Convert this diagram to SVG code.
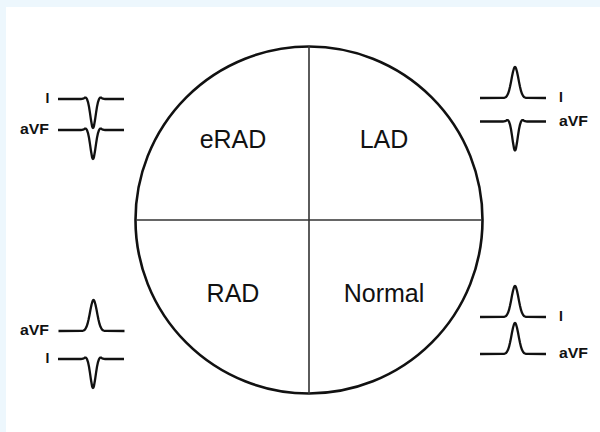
<svg xmlns="http://www.w3.org/2000/svg" xmlns:xlink="http://www.w3.org/1999/xlink" width="600" height="432" viewBox="0 0 600 432">
  <style>
    .quad { font-family: "Liberation Sans", Arial, sans-serif; font-size: 25px; fill: #111; text-anchor: middle; }
    .lead { font-family: "Liberation Sans", Arial, sans-serif; font-size: 14px; font-weight: bold; fill: #111; }
    .wave { fill: none; stroke: #111; stroke-width: 2.3; stroke-linejoin: round; stroke-linecap: butt; }
    .rim { fill: #fff; stroke: #111; stroke-width: 2.6; }
    .div { stroke: #333; stroke-width: 1.6; }
  </style>
  <defs>
    <polyline id="neg" class="wave" points="-35,0 -12,0 -11,-0.06 -10,-0.26 -9,-0.78 -8,-1.43 -7,-1.42 -6,0.03 -5,3.1 -4,7.79 -3,14.06 -2,21.05 -1,26.8 -0.5,28.43 0,29 0.5,28.43 1,26.8 2,21.05 3,14.06 4,7.79 5,3.1 6,0.03 7,-1.42 8,-1.43 9,-0.78 10,-0.26 11,-0.06 12,0 31,0"/>
    <polyline id="pos" class="wave" points="-35,0 -12,-0.1 -11,-0.2 -10,-0.5 -9,-1.1 -8,-2.3 -7,-4.2 -6,-7.1 -5,-11.2 -4,-16.1 -3,-21.5 -2,-26.3 -1,-29.8 -0.5,-30.7 0,-31 0.5,-30.7 1,-29.8 2,-26.3 3,-21.5 4,-16.1 5,-11.2 6,-7.1 7,-4.2 8,-2.3 9,-1.1 10,-0.5 11,-0.2 12,-0.1 31,0"/>
  </defs>
  <rect x="0" y="0" width="600" height="432" fill="#EDF7FD"/>
  <rect x="6" y="7" width="594" height="425" fill="#ffffff"/>

  <g id="axis-circle">
    <circle class="rim" cx="309" cy="220" r="173.5"/>
  </g>
  <g id="connectors">
    <line class="div" x1="309" y1="46" x2="309" y2="394"/>
    <line class="div" x1="136" y1="220" x2="482" y2="220"/>
  </g>

  <g id="q-erad"><text class="quad" x="233" y="148">eRAD</text></g>
  <g id="q-lad"><text class="quad" x="384" y="148">LAD</text></g>
  <g id="q-rad"><text class="quad" x="233" y="302">RAD</text></g>
  <g id="q-normal"><text class="quad" x="384" y="302">Normal</text></g>

  <g id="ecg-erad">
    <text class="lead" x="49.5" y="103" text-anchor="end">I</text>
    <use xlink:href="#neg" href="#neg" transform="translate(93,99)"/>
    <text class="lead" x="20" y="134" textLength="29" lengthAdjust="spacingAndGlyphs">aVF</text>
    <use xlink:href="#neg" href="#neg" transform="translate(93,130)"/>
  </g>
  <g id="ecg-lad">
    <use xlink:href="#pos" href="#pos" transform="translate(515,98)"/>
    <text class="lead" x="559" y="102">I</text>
    <use xlink:href="#neg" href="#neg" transform="translate(515,121.5)"/>
    <text class="lead" x="559" y="126" textLength="29" lengthAdjust="spacingAndGlyphs">aVF</text>
  </g>
  <g id="ecg-rad">
    <text class="lead" x="20" y="335" textLength="29" lengthAdjust="spacingAndGlyphs">aVF</text>
    <use xlink:href="#pos" href="#pos" transform="translate(93.5,331)"/>
    <text class="lead" x="49.5" y="363" text-anchor="end">I</text>
    <use xlink:href="#neg" href="#neg" transform="translate(93,359)"/>
  </g>
  <g id="ecg-normal">
    <use xlink:href="#pos" href="#pos" transform="translate(515,317)"/>
    <text class="lead" x="559" y="321">I</text>
    <use xlink:href="#pos" href="#pos" transform="translate(515,354)"/>
    <text class="lead" x="559" y="358" textLength="29" lengthAdjust="spacingAndGlyphs">aVF</text>
  </g>
</svg>
